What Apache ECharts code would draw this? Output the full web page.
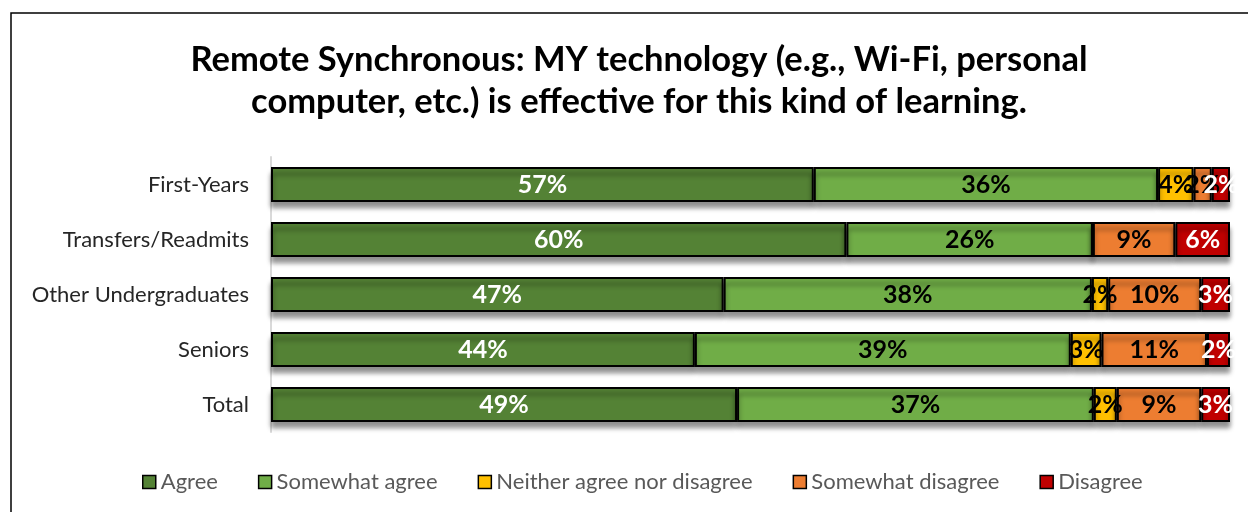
<!DOCTYPE html>
<html>
<head>
<meta charset="utf-8">
<script src="https://cdn.jsdelivr.net/npm/echarts@6/dist/echarts.min.js"></script>
<style>
  html, body { margin: 0; padding: 0; background: #fff; }
  #chart { width: 1248px; height: 512px; }
</style>
</head>
<body>
<div id="chart"></div>
<script>
const categories = ['First-Years', 'Transfers/Readmits', 'Other Undergraduates', 'Seniors', 'Total'];
const seriesNames = ['Agree', 'Somewhat agree', 'Neither agree nor disagree', 'Somewhat disagree', 'Disagree'];
const agree = [56.6, 60.0, 47.2, 44.2, 48.6];
const somewhatAgree = [35.9, 25.7, 38.4, 39.2, 37.2];
const neither = [3.7, 0, 1.7, 3.2, 2.4];
const somewhatDisagree = [1.9, 8.6, 9.7, 11.0, 8.8];
const disagree = [1.9, 5.7, 3.0, 2.4, 3.0];

const colors = ['#548235', '#70AD47', '#FFC000', '#ED7D31', '#C00000'];
const labelColors = ['#fff', '#000', '#000', '#000', '#fff'];
const values = [agree, somewhatAgree, neither, somewhatDisagree, disagree];

const font = 'Lato, "Open Sans", sans-serif';
const chart = echarts.init(document.getElementById('chart'));

const series = seriesNames.map((name, i) => ({
  name: name,
  type: 'bar',
  stack: 'all',
  barWidth: '64%',
  data: values[i],
  itemStyle: {
    color: colors[i],
    borderColor: '#000',
    borderWidth: 2,
    shadowColor: 'rgba(0,0,0,0.45)',
    shadowBlur: 5,
    shadowOffsetY: 6
  },
  label: {
    show: true,
    position: 'inside',
    color: labelColors[i],
    fontFamily: font,
    fontWeight: 'bold',
    fontSize: 25,
    formatter: p => p.value > 0 ? Math.round(p.value) + '%' : ''
  }
}));

chart.setOption({
  animation: false,
  title: {
    text: 'Remote Synchronous: MY technology (e.g., Wi-Fi, personal\ncomputer, etc.) is effective for this kind of learning.',
    left: 634,
    top: 34,
    textAlign: 'center',
    textStyle: {
      fontFamily: font,
      fontWeight: 'bold',
      fontSize: 34.5,
      lineHeight: 42,
      color: '#000'
    }
  },
  graphic: [{
    type: 'rect',
    shape: { x: 11, y: 13, width: 1260, height: 560 },
    style: { fill: 'none', stroke: '#000', lineWidth: 1.5 },
    silent: true
  }],
  legend: {
    bottom: 14,
    left: 137,
    itemGap: 40,
    itemWidth: 13,
    itemHeight: 13,
    icon: 'rect',
    textStyle: { fontFamily: font, fontSize: 22, color: '#595959' },
    data: seriesNames.map((n, i) => ({
      name: n,
      itemStyle: { color: colors[i], borderColor: '#000', borderWidth: 1.5, shadowBlur: 0, shadowOffsetY: 0 }
    }))
  },
  grid: { left: 271, right: 18, top: 157, bottom: 80 },
  xAxis: {
    type: 'value',
    min: 0,
    max: 100,
    show: false
  },
  yAxis: {
    type: 'category',
    data: categories,
    inverse: true,
    axisLine: { show: true, lineStyle: { color: '#d9d9d9', width: 2 } },
    axisTick: { show: false },
    axisLabel: { fontFamily: font, fontSize: 22, color: '#262626', margin: 22 }
  },
  series: series
});
</script>
</body>
</html>
